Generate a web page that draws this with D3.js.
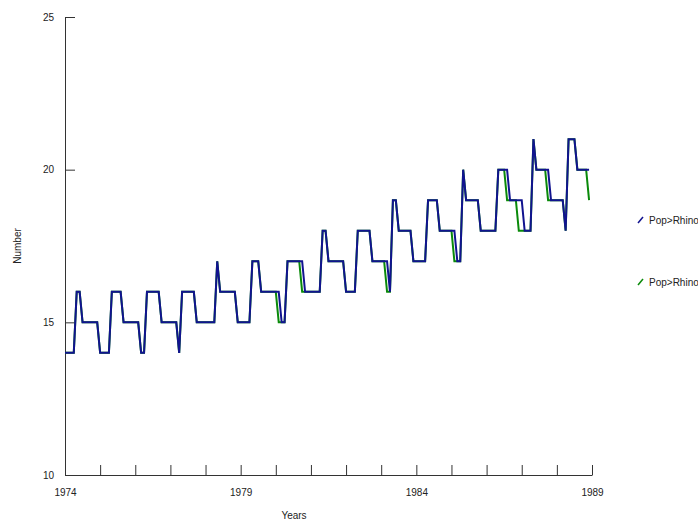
<!DOCTYPE html>
<html>
<head>
<meta charset="utf-8">
<script src="https://cdn.jsdelivr.net/npm/d3@7"></script>
<style>
  body { margin: 0; background: #fff; }
  text { font-family: "Liberation Sans", Arial, sans-serif; font-size: 10px; fill: #222; }
</style>
</head>
<body>
<div id="viz"></div>
<script>
// monthly values, one row per year (jan..dec), 1974 to 1988
var years = [1974, 1975, 1976, 1977, 1978, 1979, 1980, 1981, 1982, 1983, 1984, 1985, 1986, 1987, 1988];

var rhinoBlue = [
  [14,14,14,14,16,16,15,15,15,15,15,15],
  [14,14,14,14,16,16,16,16,15,15,15,15],
  [15,15,14,14,16,16,16,16,16,15,15,15],
  [15,15,15,14,16,16,16,16,16,15,15,15],
  [15,15,15,15,17,16,16,16,16,16,16,15],
  [15,15,15,15,17,17,17,16,16,16,16,16],
  [16,16,15,15,17,17,17,17,17,17,16,16],
  [16,16,16,16,18,18,17,17,17,17,17,17],
  [16,16,16,16,18,18,18,18,18,17,17,17],
  [17,17,17,16,19,19,18,18,18,18,18,17],
  [17,17,17,17,19,19,19,19,18,18,18,18],
  [18,18,17,17,20,19,19,19,19,19,18,18],
  [18,18,18,18,20,20,20,20,19,19,19,19],
  [19,18,18,18,21,20,20,20,20,20,19,19],
  [19,19,19,18,21,21,21,20,20,20,20,20]
];

var rhinoGreen = [
  [14,14,14,14,16,16,15,15,15,15,15,15],
  [14,14,14,14,16,16,16,16,15,15,15,15],
  [15,15,14,14,16,16,16,16,16,15,15,15],
  [15,15,15,14,16,16,16,16,16,15,15,15],
  [15,15,15,15,17,16,16,16,16,16,16,15],
  [15,15,15,15,17,17,17,16,16,16,16,16],
  [16,15,15,15,17,17,17,17,17,16,16,16],
  [16,16,16,16,18,18,17,17,17,17,17,17],
  [16,16,16,16,18,18,18,18,18,17,17,17],
  [17,17,16,16,19,19,18,18,18,18,18,17],
  [17,17,17,17,19,19,19,19,18,18,18,18],
  [18,17,17,17,20,19,19,19,19,19,18,18],
  [18,18,18,18,20,20,20,19,19,19,19,18],
  [18,18,18,18,21,20,20,20,20,19,19,19],
  [19,19,19,18,21,21,21,20,20,20,20,19]
];

var seriesNames = ['Pop>Rhino', 'Pop>Rhino'];
var seriesColors = ['#11138f', '#0a8a0a'];

var xTicks = d3.range(1974, 1990);
var xLabels = [1974, 1979, 1984, 1989];
var yTicks = [10, 15, 20, 25];

// flatten rows into {t, v} points
function toPoints(rows) {
  var pts = [];
  rows.forEach(function (row, yi) {
    row.forEach(function (v, m) {
      pts.push({ t: years[yi] + m / 12, v: v });
    });
  });
  return pts;
}

var svg = d3.select('#viz').append('svg')
  .attr('width', 698)
  .attr('height', 525);

var x = d3.scaleLinear().domain([1974, 1989]).range([65, 592]);
var y = d3.scaleLinear().domain([10, 25]).range([475, 17]);

// x axis, ticks pointing up, labels only every 5 years
svg.append('g')
  .attr('transform', 'translate(0,475)')
  .call(d3.axisBottom(x)
    .tickValues(xTicks)
    .tickSizeInner(-10)
    .tickSizeOuter(0)
    .tickPadding(14)
    .tickFormat(function (d) { return xLabels.indexOf(d) >= 0 ? d : ''; }))
  .call(function (g) {
    g.selectAll('path, line').attr('stroke', '#333');
    g.selectAll('text').attr('font-size', 10).attr('font-family', null);
  });

// y axis, ticks pointing right
svg.append('g')
  .attr('transform', 'translate(65,0)')
  .call(d3.axisLeft(y)
    .tickValues(yTicks)
    .tickSizeInner(-10)
    .tickSizeOuter(0)
    .tickPadding(11)
    .tickFormat(d3.format('d')))
  .call(function (g) {
    g.selectAll('path, line').attr('stroke', '#333');
    g.selectAll('text').attr('font-size', 10).attr('font-family', null);
  });

// axis titles
svg.append('text')
  .attr('x', 294)
  .attr('y', 519)
  .attr('text-anchor', 'middle')
  .text('Years');

svg.append('text')
  .attr('transform', 'translate(21,246) rotate(-90)')
  .attr('text-anchor', 'middle')
  .text('Number');

var line = d3.line()
  .x(function (d) { return x(d.t); })
  .y(function (d) { return y(d.v); });

// green underneath, blue on top
var series = [toPoints(rhinoBlue), toPoints(rhinoGreen)];
[1, 0].forEach(function (i) {
  svg.append('path')
    .datum(series[i])
    .attr('fill', 'none')
    .attr('stroke', seriesColors[i])
    .attr('stroke-width', 2)
    .attr('d', line);
});

// legend
var legendY = [220, 282];
seriesNames.forEach(function (name, i) {
  var g = svg.append('g').attr('transform', 'translate(638,' + legendY[i] + ')');
  g.append('line')
    .attr('x1', 0).attr('y1', 3)
    .attr('x2', 5).attr('y2', -3)
    .attr('stroke', seriesColors[i])
    .attr('stroke-width', 1.5);
  g.append('text')
    .attr('x', 11)
    .attr('y', 3.5)
    .text(name);
});
</script>
</body>
</html>
